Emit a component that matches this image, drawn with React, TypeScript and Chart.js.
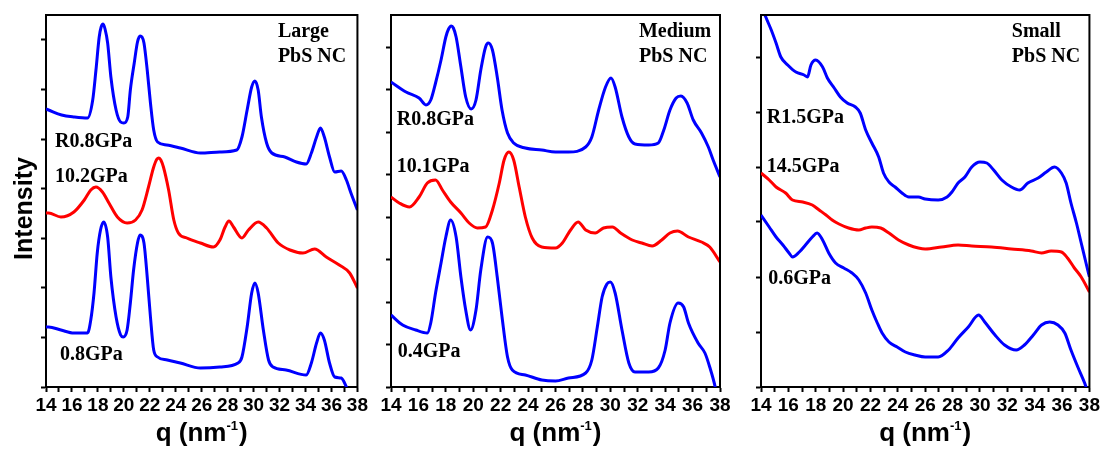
import React, { useEffect, useRef } from 'react';
import { Chart, registerables } from 'chart.js';

Chart.register(...registerables);

// ---------------- data (q in nm^-1, intensity in arbitrary units) ----------------
// Large PbS NC
const largeTopQ = [14.0, 14.2, 15.2, 16.2, 17.2, 17.6, 17.85, 18.1, 18.25, 18.4, 18.55, 18.75, 19.0, 19.4, 19.75, 20.0, 20.3, 20.5, 20.8, 21.05, 21.25, 21.4, 21.55, 21.8, 22.05, 22.3, 22.6, 23.3, 24.35, 25.9, 27.4, 28.7, 29.1, 29.5, 29.85, 30.1, 30.35, 30.6, 31.0, 31.4, 32.4, 33.3, 34.05, 34.45, 34.85, 35.15, 35.45, 35.85, 36.25, 36.75, 37.15, 37.5, 38.0];
const largeTopI = [278, 277, 272, 270, 269, 287, 317, 350, 360, 363, 358, 344, 310, 277, 265, 264, 270, 297, 324, 345, 351, 350, 344, 317, 284, 257, 245, 242, 239, 234, 235, 237, 250, 277, 300, 306, 297, 270, 244, 234, 230, 225, 223, 234, 250, 259, 250, 230, 215, 216, 207, 194, 177];
const largeMidQ = [14.0, 14.2, 15.15, 16.15, 16.95, 17.45, 17.85, 18.35, 18.85, 19.5, 20.25, 20.9, 21.4, 21.9, 22.3, 22.55, 22.7, 22.85, 23.05, 23.45, 23.85, 24.2, 24.85, 25.9, 26.9, 27.4, 27.8, 28.1, 28.45, 29.1, 29.6, 30.35, 31.0, 31.9, 32.8, 33.8, 34.7, 35.6, 36.6, 37.4, 38.0];
const largeMidI = [174, 174, 170, 175, 187, 197, 200, 195, 184, 170, 164, 167, 177, 200, 220, 228, 229, 227, 220, 197, 167, 154, 149, 144, 140, 147, 160, 166, 160, 149, 157, 165, 159, 144, 137, 134, 138, 130, 122, 114, 99];
const largeBotQ = [14.0, 14.2, 15.15, 16.15, 17.2, 17.45, 17.7, 17.95, 18.2, 18.45, 18.75, 19.0, 19.4, 19.75, 19.95, 20.25, 20.5, 20.75, 21.05, 21.25, 21.55, 21.8, 22.05, 22.3, 22.6, 23.35, 24.35, 25.9, 27.4, 28.8, 29.1, 29.5, 29.85, 30.1, 30.35, 30.75, 31.15, 31.5, 32.5, 34.05, 34.45, 34.85, 35.15, 35.45, 35.85, 36.25, 36.75, 37.15, 37.5];
const largeBotI = [60, 60, 57, 54, 54, 67, 94, 134, 157, 165, 150, 110, 70, 52, 50, 57, 84, 117, 144, 152, 144, 110, 70, 37, 30, 27, 24, 19, 20, 24, 30, 60, 94, 104, 94, 57, 27, 20, 17, 12, 24, 44, 54, 47, 24, 10, 9, 0, -12];

// Medium PbS NC
const mediumTopQ = [14.0, 15.1, 16.05, 16.55, 16.9, 17.25, 17.65, 18.0, 18.2, 18.4, 18.55, 18.75, 19.1, 19.45, 19.85, 20.2, 20.55, 20.9, 21.1, 21.4, 21.75, 22.1, 22.5, 22.95, 23.8, 25.0, 26.0, 26.95, 28.2, 28.65, 29.15, 29.65, 30.05, 30.35, 30.85, 31.35, 31.8, 32.8, 33.5, 33.9, 34.35, 34.8, 35.15, 35.6, 36.05, 36.65, 37.15, 37.5, 38.0];
const mediumTopI = [305, 295, 289, 282, 287, 304, 327, 350, 358, 361, 359, 350, 320, 290, 278, 287, 317, 340, 344, 337, 310, 277, 254, 244, 239, 237, 235, 235, 240, 250, 277, 300, 309, 300, 270, 250, 243, 242, 244, 257, 277, 289, 291, 284, 267, 254, 240, 227, 210];
const mediumMidQ = [14.0, 14.6, 15.35, 16.05, 16.65, 17.25, 17.75, 18.35, 19.1, 19.7, 20.3, 20.9, 21.4, 21.9, 22.25, 22.6, 22.95, 23.35, 23.8, 24.3, 25.0, 26.0, 26.5, 27.1, 27.65, 28.2, 28.9, 29.5, 30.15, 30.75, 31.6, 32.3, 33.05, 33.75, 34.35, 34.9, 35.7, 36.65, 37.25, 38.0];
const mediumMidI = [190, 184, 180, 190, 204, 207, 197, 185, 174, 164, 159, 160, 177, 204, 227, 235, 227, 200, 170, 149, 140, 139, 144, 157, 165, 157, 154, 159, 160, 154, 147, 144, 141, 147, 154, 156, 150, 145, 140, 125];
const mediumBotQ = [14.0, 14.85, 15.8, 16.65, 16.9, 17.25, 17.65, 18.0, 18.35, 18.75, 19.1, 19.45, 19.8, 20.2, 20.55, 21.05, 21.4, 21.75, 22.1, 22.5, 22.85, 23.8, 25.0, 26.0, 26.95, 28.2, 28.65, 29.05, 29.4, 29.75, 30.0, 30.35, 30.85, 31.35, 31.8, 32.8, 33.5, 34.0, 34.35, 34.95, 35.35, 35.7, 36.4, 36.9, 37.25, 37.65, 37.85];
const mediumBotI = [72, 62, 57, 54, 64, 94, 124, 150, 167, 150, 110, 77, 57, 77, 117, 150, 144, 110, 70, 30, 17, 12, 7, 6, 9, 14, 27, 60, 90, 103, 105, 94, 57, 24, 15, 15, 19, 37, 64, 84, 80, 64, 44, 34, 20, 0, -15];

// Small PbS NC
const smallTopQ = [14.0, 14.35, 14.75, 15.1, 15.45, 15.95, 16.55, 17.15, 17.4, 17.65, 18.0, 18.5, 18.85, 19.35, 19.8, 20.3, 20.9, 21.25, 21.65, 22.1, 22.6, 22.95, 23.35, 23.8, 24.3, 24.8, 25.5, 26.0, 26.95, 27.6, 27.95, 28.4, 28.9, 29.4, 30.0, 30.5, 31.0, 31.6, 32.3, 32.9, 33.5, 34.25, 34.85, 35.45, 35.95, 36.3, 36.65, 37.05, 37.4, 37.75, 38.0];
const smallTopI = [383, 370, 357, 344, 330, 322, 315, 312, 310, 322, 327, 320, 309, 299, 290, 284, 280, 274, 257, 244, 230, 214, 205, 200, 194, 190, 190, 188, 187, 190, 195, 204, 210, 220, 225, 224, 217, 207, 200, 197, 204, 209, 215, 220, 214, 204, 184, 164, 144, 124, 110];
const smallMidQ = [14.0, 14.6, 15.1, 15.8, 16.3, 17.05, 17.75, 18.25, 18.75, 19.2, 19.7, 20.4, 21.15, 21.65, 22.1, 22.75, 23.35, 24.05, 24.8, 25.5, 26.0, 27.2, 28.4, 29.4, 30.85, 32.3, 33.75, 34.5, 35.2, 35.95, 36.4, 36.9, 37.4, 38.0];
const smallMidI = [214, 207, 200, 194, 187, 185, 182, 177, 172, 167, 163, 159, 157, 159, 160, 159, 154, 147, 142, 139, 138, 140, 142, 141, 140, 138, 136, 134, 136, 135, 129, 119, 110, 95];
const smallBotQ = [14.0, 14.6, 15.1, 15.6, 16.05, 16.3, 16.8, 17.25, 17.75, 18.1, 18.5, 18.95, 19.45, 20.05, 20.65, 21.15, 21.65, 22.1, 22.5, 22.85, 23.35, 23.95, 24.55, 25.25, 26.0, 26.95, 27.7, 28.4, 29.15, 29.9, 30.35, 31.1, 31.8, 32.65, 33.25, 33.9, 34.5, 35.1, 35.7, 36.2, 36.65, 37.15, 37.65, 37.8];
const smallBotI = [172, 160, 150, 142, 134, 130, 135, 142, 150, 154, 147, 134, 124, 119, 114, 107, 94, 77, 64, 54, 45, 40, 35, 32, 30, 30, 37, 49, 60, 72, 65, 52, 42, 37, 42, 52, 62, 65, 62, 54, 37, 20, 4, -2];

// axis ticks
const xMajorTicks = [14, 16, 18, 20, 22, 24, 26, 28, 30, 32, 34, 36, 38];
const xTickLabels = ['14', '16', '18', '20', '22', '24', '26', '28', '30', '32', '34', '36', '38'];

// in-panel annotations (positions in data coordinates)
const largeLabels = ['R0.8GPa', '10.2GPa', '0.8GPa'];
const largeLabelQ = [14.69, 14.69, 15.08];
const largeLabelI = [240, 205, 27];
const mediumLabels = ['R0.8GPa', '10.1GPa', '0.4GPa'];
const mediumLabelQ = [14.42, 14.42, 14.49];
const mediumLabelI = [262, 215, 30];
const smallLabels = ['R1.5GPa', '14.5GPa', '0.6GPa'];
const smallLabelQ = [14.42, 14.42, 14.53];
const smallLabelI = [264, 215, 103];

const titleLinesLarge = ['Large', 'PbS NC'];
const titleLinesMedium = ['Medium', 'PbS NC'];
const titleLinesSmall = ['Small', 'PbS NC'];
const titleLineI = [350, 325];

const BLUE = '#0000ff';
const RED = '#ff0000';

const SANS = '"Liberation Sans", Arial, Helvetica, sans-serif';
const SERIF = '"Liberation Serif", "Times New Roman", Times, serif';

type Curve = { q: number[]; I: number[]; color: string };
type PanelDef = {
  id: string;
  canvasLeft: number;
  canvasWidth: number;
  yAxisWidth: number;
  padRight: number;
  yStep: number;
  curves: Curve[];
  labels: string[];
  labelQ: number[];
  labelI: number[];
  titleLines: string[];
  titleQ: number;
  showYTitle: boolean;
};

const PANELS: PanelDef[] = [
  {
    id: 'large', canvasLeft: 0, canvasWidth: 370, yAxisWidth: 46, padRight: 12, yStep: 49.6,
    curves: [
      { q: largeTopQ, I: largeTopI, color: BLUE },
      { q: largeMidQ, I: largeMidI, color: RED },
      { q: largeBotQ, I: largeBotI, color: BLUE },
    ],
    labels: largeLabels, labelQ: largeLabelQ, labelI: largeLabelI,
    titleLines: titleLinesLarge, titleQ: 31.87, showYTitle: true,
  },
  {
    id: 'medium', canvasLeft: 370, canvasWidth: 370, yAxisWidth: 21, padRight: 20, yStep: 42.5,
    curves: [
      { q: mediumTopQ, I: mediumTopI, color: BLUE },
      { q: mediumMidQ, I: mediumMidI, color: RED },
      { q: mediumBotQ, I: mediumBotI, color: BLUE },
    ],
    labels: mediumLabels, labelQ: mediumLabelQ, labelI: mediumLabelI,
    titleLines: titleLinesMedium, titleQ: 32.09, showYTitle: false,
  },
  {
    id: 'small', canvasLeft: 740, canvasWidth: 362, yAxisWidth: 21, padRight: 12, yStep: 55,
    curves: [
      { q: smallTopQ, I: smallTopI, color: BLUE },
      { q: smallMidQ, I: smallMidI, color: RED },
      { q: smallBotQ, I: smallBotI, color: BLUE },
    ],
    labels: smallLabels, labelQ: smallLabelQ, labelI: smallLabelI,
    titleLines: titleLinesSmall, titleQ: 32.33, showYTitle: false,
  },
];

const HEIGHT = 449;

function makeDecor(p: PanelDef) {
  return {
    id: 'decor_' + p.id,
    afterDraw(chart: any) {
      const { ctx, chartArea: a, scales } = chart;
      const xs = scales.x;
      const ys = scales.y;
      ctx.save();
      // top & right frame
      ctx.strokeStyle = '#000';
      ctx.lineWidth = 2;
      ctx.beginPath();
      ctx.moveTo(a.left - 1, a.top);
      ctx.lineTo(a.right, a.top);
      ctx.lineTo(a.right, a.bottom + 1);
      ctx.stroke();

      // curve labels
      ctx.fillStyle = '#000';
      ctx.textAlign = 'left';
      ctx.textBaseline = 'alphabetic';
      ctx.font = 'bold 20px ' + SERIF;
      p.labels.forEach((t, i) => {
        ctx.fillText(t, xs.getPixelForValue(p.labelQ[i]), ys.getPixelForValue(p.labelI[i]));
      });
      p.titleLines.forEach((t, i) => {
        ctx.fillText(t, xs.getPixelForValue(p.titleQ), ys.getPixelForValue(titleLineI[i]));
      });

      // x-axis title with superscript
      const mainTxt = 'q (nm';
      const supTxt = '-1';
      const closeTxt = ')';
      const bigFont = 'bold 26px ' + SANS;
      const supFont = 'bold 13px ' + SANS;
      ctx.font = bigFont;
      const wMain = ctx.measureText(mainTxt).width;
      const wClose = ctx.measureText(closeTxt).width;
      ctx.font = supFont;
      const wSup = ctx.measureText(supTxt).width;
      const total = wMain + wSup + 1 + wClose;
      const x0 = (a.left + a.right) / 2 - total / 2;
      const yb = a.bottom + 54;
      ctx.font = bigFont;
      ctx.fillText(mainTxt, x0, yb);
      ctx.font = supFont;
      ctx.fillText(supTxt, x0 + wMain, yb - 11);
      ctx.font = bigFont;
      ctx.fillText(closeTxt, x0 + wMain + wSup + 1, yb);

      // y-axis title
      if (p.showYTitle) {
        ctx.translate(32, (a.top + a.bottom) / 2 + 7.5);
        ctx.rotate(-Math.PI / 2);
        ctx.textAlign = 'center';
        ctx.font = 'bold 25px ' + SANS;
        ctx.fillText('Intensity', 0, 0);
      }
      ctx.restore();
    },
  };
}

function Panel({ p }: { p: PanelDef }) {
  const ref = useRef<HTMLCanvasElement | null>(null);
  useEffect(() => {
    const canvas = ref.current;
    if (!canvas) return;
    const datasets = p.curves.map((c) => ({
      data: c.q.map((q, i) => ({ x: q, y: c.I[i] })),
      borderColor: c.color,
      backgroundColor: c.color,
      borderWidth: 3,
      pointRadius: 0,
      fill: false,
      cubicInterpolationMode: 'monotone' as const,
    }));
    const axisGrid = {
      display: true,
      drawOnChartArea: false,
      drawTicks: true,
      tickLength: 5,
      tickWidth: 2,
      tickColor: '#000',
      color: '#000',
    };
    const chart = new Chart(canvas, {
      type: 'line',
      data: { datasets },
      plugins: [makeDecor(p)],
      options: {
        responsive: false,
        maintainAspectRatio: false,
        animation: false,
        events: [],
        layout: { padding: { left: 0, right: p.padRight, top: 15, bottom: 0 } },
        plugins: {
          legend: { display: false },
          tooltip: { enabled: false },
          title: { display: false },
        },
        scales: {
          x: {
            type: 'linear',
            min: 14,
            max: 38,
            grid: axisGrid,
            border: { display: true, color: '#000', width: 2 },
            ticks: {
              stepSize: 1,
              autoSkip: false,
              maxRotation: 0,
              minRotation: 0,
              padding: 2,
              color: '#000',
              font: { family: SANS, size: 19, weight: 'bold' },
              callback: (v: any) => {
                const idx = xMajorTicks.indexOf(Number(v));
                return idx >= 0 ? xTickLabels[idx] : '';
              },
            },
            afterFit: (s: any) => {
              s.height = HEIGHT - 15 - 372;
            },
          },
          y: {
            type: 'linear',
            min: 0,
            max: 372,
            grid: axisGrid,
            border: { display: true, color: '#000', width: 2 },
            ticks: { display: false, stepSize: p.yStep, includeBounds: false },
            afterFit: (s: any) => {
              s.width = p.yAxisWidth;
            },
          },
        },
      } as any,
    });
    return () => chart.destroy();
  }, [p]);
  return (
    <canvas
      ref={ref}
      width={p.canvasWidth}
      height={HEIGHT}
      style={{ position: 'absolute', left: p.canvasLeft, top: 0, width: p.canvasWidth, height: HEIGHT }}
    />
  );
}

export default function App() {
  return (
    <div style={{ position: 'absolute', left: 0, top: 0, width: 1102, height: HEIGHT, background: '#fff', overflow: 'hidden' }}>
      {PANELS.map((p) => (
        <Panel key={p.id} p={p} />
      ))}
    </div>
  );
}
